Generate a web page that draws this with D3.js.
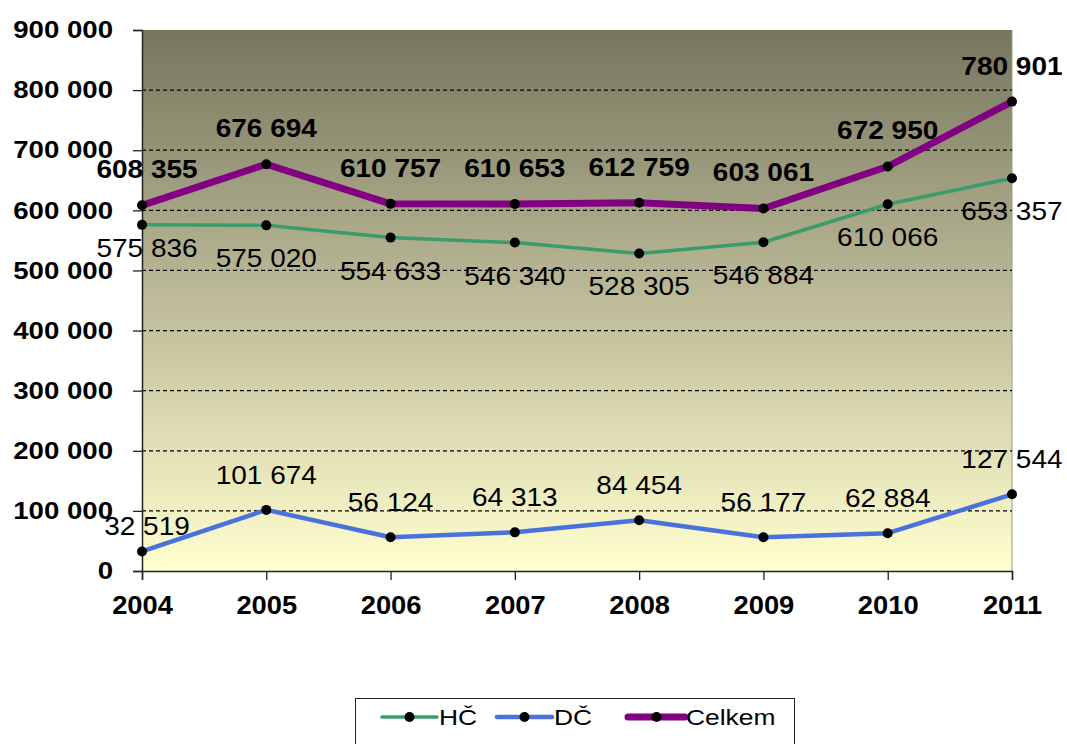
<!DOCTYPE html>
<html>
<head>
<meta charset="utf-8">
<script src="https://cdn.jsdelivr.net/npm/d3@7"></script>
<style>
  html, body { margin: 0; padding: 0; background: #fff; }
  svg { display: block; }
  text { font-family: "Liberation Sans", Arial, sans-serif; fill: #000; }
</style>
</head>
<body>
<svg id="chart" width="1067" height="744"></svg>
<script>
const years = ["2004", "2005", "2006", "2007", "2008", "2009", "2010", "2011"];
const hc = [575836, 575020, 554633, 546340, 528305, 546884, 610066, 653357];
const dc = [32519, 101674, 56124, 64313, 84454, 56177, 62884, 127544];
const celkem = [608355, 676694, 610757, 610653, 612759, 603061, 672950, 780901];
const yTicks = [0, 100000, 200000, 300000, 400000, 500000, 600000, 700000, 800000, 900000];
const seriesNames = ["HČ", "DČ", "Celkem"];

const svg = d3.select("#chart");
const W = 1067, H = 744;
const m = { left: 142, right: 55, top: 30, bottom: 173 };
const pw = W - m.left - m.right, ph = H - m.top - m.bottom;

const x = d3.scalePoint().domain(years).range([0, pw]);
const y = d3.scaleLinear().domain([0, 900000]).range([ph, 0]);

const fmt = v => d3.format(",")(v).replace(/,/g, " ");

function stretch(sel, k) {
  sel.each(function () {
    const len = this.getComputedTextLength();
    d3.select(this).attr("textLength", len * k).attr("lengthAdjust", "spacingAndGlyphs");
  });
}

const defs = svg.append("defs");
const grad = defs.append("linearGradient").attr("id", "bg").attr("x1", 0).attr("y1", 0).attr("x2", 0).attr("y2", 1);
grad.append("stop").attr("offset", "0%").attr("stop-color", "#76765e");
grad.append("stop").attr("offset", "50%").attr("stop-color", "#bdbb98");
grad.append("stop").attr("offset", "100%").attr("stop-color", "#ffffcf");

const g = svg.append("g").attr("transform", `translate(${m.left},${m.top})`);

g.append("rect").attr("width", pw).attr("height", ph).attr("fill", "url(#bg)");
g.append("line").attr("x1", pw).attr("x2", pw).attr("y1", 0).attr("y2", ph).attr("stroke", "#9a9a8a").attr("stroke-width", 1);

// gridlines
g.append("g").selectAll("line").data(yTicks.filter(t => t > 0 && t < 900000)).join("line")
  .attr("x1", 0).attr("x2", pw).attr("y1", d => y(d)).attr("y2", d => y(d))
  .attr("stroke", "#000").attr("stroke-width", 1.2).attr("stroke-dasharray", "4,3");

// axes
const yAxis = d3.axisLeft(y).tickValues(yTicks).tickSize(9).tickPadding(20).tickFormat(fmt);
const ya = g.append("g").call(yAxis);
ya.select(".domain").attr("stroke", "#222").attr("stroke-width", 1.5);
ya.selectAll(".tick line").attr("stroke", "#222").attr("stroke-width", 1.3);
ya.selectAll("text").attr("font-size", 24).attr("font-weight", "bold").attr("fill", "#000")
  .style("font-family", '"Liberation Sans", Arial, sans-serif');
stretch(ya.selectAll("text"), 1.15);

const xAxis = d3.axisBottom(x).tickSize(9).tickPadding(16);
const xa = g.append("g").attr("transform", `translate(0,${ph})`).call(xAxis);
xa.select(".domain").attr("stroke", "#222").attr("stroke-width", 1.5);
xa.selectAll(".tick line").attr("stroke", "#222").attr("stroke-width", 1.3);
xa.selectAll("text").attr("font-size", 26).attr("font-weight", "bold").attr("fill", "#000")
  .style("font-family", '"Liberation Sans", Arial, sans-serif');
stretch(xa.selectAll("text"), 1.05);

const series = [
  { name: seriesNames[0], values: hc, color: "#3a9c6c", width: 3.5, labelDy: 42, bold: false },
  { name: seriesNames[1], values: dc, color: "#4a72dc", width: 4.5, labelDy: -26, bold: false },
  { name: seriesNames[2], values: celkem, color: "#820082", width: 7, labelDy: -27, bold: true }
];

const line = d3.line().x((d, i) => x(years[i])).y(d => y(d));

series.forEach(s => {
  g.append("path").datum(s.values).attr("d", line)
    .attr("fill", "none").attr("stroke", s.color).attr("stroke-width", s.width)
    .attr("stroke-linejoin", "round");
  g.append("g").selectAll("circle").data(s.values).join("circle")
    .attr("cx", (d, i) => x(years[i])).attr("cy", d => y(d)).attr("r", 5).attr("fill", "#000");
});

// data labels
series.forEach(s => {
  const t = g.append("g").selectAll("text").data(s.values).join("text")
    .attr("x", (d, i) => x(years[i]) + (i === 0 ? 5 : 0))
    .attr("y", (d, i) => y(d) + s.labelDy + (i === 0 && !s.bold ? (s.labelDy > 0 ? -10 : 10) : 0))
    .attr("text-anchor", "middle")
    .attr("font-size", 25)
    .attr("font-weight", s.bold ? "bold" : "normal")
    .text(d => fmt(d));
  stretch(t, 1.12);
});

// legend
const lg = svg.append("g");
lg.append("rect").attr("x", 355.5).attr("y", 698.5).attr("width", 439).attr("height", 60)
  .attr("fill", "#fff").attr("stroke", "#222").attr("stroke-width", 1);
const legendItems = [
  { s: series[0], x0: 382, x1: 437, tx: 439 },
  { s: series[1], x0: 497, x1: 552, tx: 554 },
  { s: series[2], x0: 628, x1: 685, tx: 686 }
];
const ly = 717;
legendItems.forEach(it => {
  lg.append("line").attr("x1", it.x0).attr("x2", it.x1).attr("y1", ly).attr("y2", ly)
    .attr("stroke", it.s.color).attr("stroke-width", it.s.width).attr("stroke-linecap", "round");
  lg.append("circle").attr("cx", (it.x0 + it.x1) / 2).attr("cy", ly).attr("r", 5).attr("fill", "#000");
  const tt = lg.append("text").attr("x", it.tx).attr("y", ly + 8).attr("font-size", 22)
    .style("font-weight", "normal").attr("fill", "#222").text(it.s.name);
  stretch(tt, 1.2);
});
</script>
</body>
</html>
